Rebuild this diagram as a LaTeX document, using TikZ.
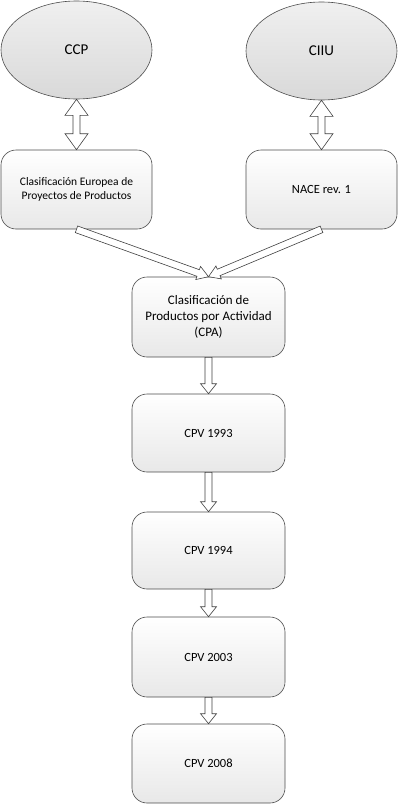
\documentclass[tikz,border=0pt]{standalone}
\usepackage{fontspec}
\setmainfont{Carlito}
\usetikzlibrary{calc,shapes.geometric}

\tikzset{
	caja/.style={draw=black!70, line width=0.6pt, rounded corners=15pt, inner sep=0pt,
		minimum width=151pt, align=center, top color=white, bottom color=black!9},
	elipse/.style={ellipse, draw=black!70, line width=0.6pt, inner sep=0pt,
		minimum width=151pt, minimum height=98pt, top color=black!6, bottom color=black!15,
		font=\fontsize{15}{18}\selectfont},
	hueca/.style={draw=black!75, line width=0.6pt, fill=white, line join=miter}
}

% flecha hueca: desde, hasta, media anchura de punta, largo de punta
\newcommand{\flechahueca}[4]{%
	\pgfmathsetmacro{\ra}{veclen(#4,3.5)}%
	\pgfmathsetmacro{\ta}{atan2(3.5,#4)}%
	\pgfmathsetmacro{\rb}{veclen(#4,#3)}%
	\pgfmathsetmacro{\tb}{atan2(#3,#4)}%
	\draw[hueca] ($(#1)!3.5pt!90:(#2)$) -- ($(#2)!\ra pt!-\ta:(#1)$) -- ($(#2)!\rb pt!-\tb:(#1)$)
		-- (#2) -- ($(#2)!\rb pt!\tb:(#1)$) -- ($(#2)!\ra pt!\ta:(#1)$) -- ($(#1)!3.5pt!-90:(#2)$) -- cycle;}

% flecha hueca con punta en los dos extremos
\newcommand{\flechadoble}[4]{%
	\pgfmathsetmacro{\ra}{veclen(#4,3.5)}%
	\pgfmathsetmacro{\ta}{atan2(3.5,#4)}%
	\pgfmathsetmacro{\rb}{veclen(#4,#3)}%
	\pgfmathsetmacro{\tb}{atan2(#3,#4)}%
	\draw[hueca] (#1) -- ($(#1)!\rb pt!\tb:(#2)$) -- ($(#1)!\ra pt!\ta:(#2)$)
		-- ($(#2)!\ra pt!-\ta:(#1)$) -- ($(#2)!\rb pt!-\tb:(#1)$) -- (#2)
		-- ($(#2)!\rb pt!\tb:(#1)$) -- ($(#2)!\ra pt!\ta:(#1)$)
		-- ($(#1)!\ra pt!-\ta:(#2)$) -- ($(#1)!\rb pt!-\tb:(#2)$) -- cycle;}

\begin{document}
\begin{tikzpicture}[x=1pt, y=-1pt]
	\useasboundingbox (0,0) rectangle (400,806);

	\node[elipse] (ccp) at (76.5, 50) {CCP};
	\node[elipse] (ciiu) at (321.5, 51) {CIIU};

	\node[caja, minimum height=79pt, font=\fontsize{11.5}{14}\selectfont] (eur) at (76.5, 189.5)
		{Clasificación Europea de\\ Proyectos de Productos};
	\node[caja, minimum height=79pt, font=\fontsize{12.5}{14}\selectfont] (nace) at (321.5, 189.5)
		{NACE rev. 1};

	\node[caja, minimum width=153pt, minimum height=80pt, font=\fontsize{13}{16}\selectfont] (cpa) at (208.5, 317)
		{Clasificación de\\ Productos por Actividad\\ (CPA)};

	\begin{scope}[every node/.style={caja, minimum width=153pt, font=\fontsize{12.5}{14}\selectfont}]
		\node[minimum height=78pt] (c93) at (208.5, 433) {CPV 1993};
		\node[minimum height=77pt] (c94) at (208.5, 550.5) {CPV 1994};
		\node[minimum height=80pt] (c03) at (208.5, 657) {CPV 2003};
		\node[minimum height=79pt] (c08) at (208.5, 763.5) {CPV 2008};
	\end{scope}

	\flechadoble{ccp.south}{eur.north}{11.5}{16}
	\flechadoble{ciiu.south}{nace.north}{11.5}{16}

	\flechahueca{eur.south}{cpa.north}{7}{11}
	\flechahueca{nace.south}{cpa.north}{7}{11}

	\foreach \a/\b in {cpa/c93, c93/c94, c94/c03, c03/c08}
		\flechahueca{\a.south}{\b.north}{8}{10};
\end{tikzpicture}
\end{document}
